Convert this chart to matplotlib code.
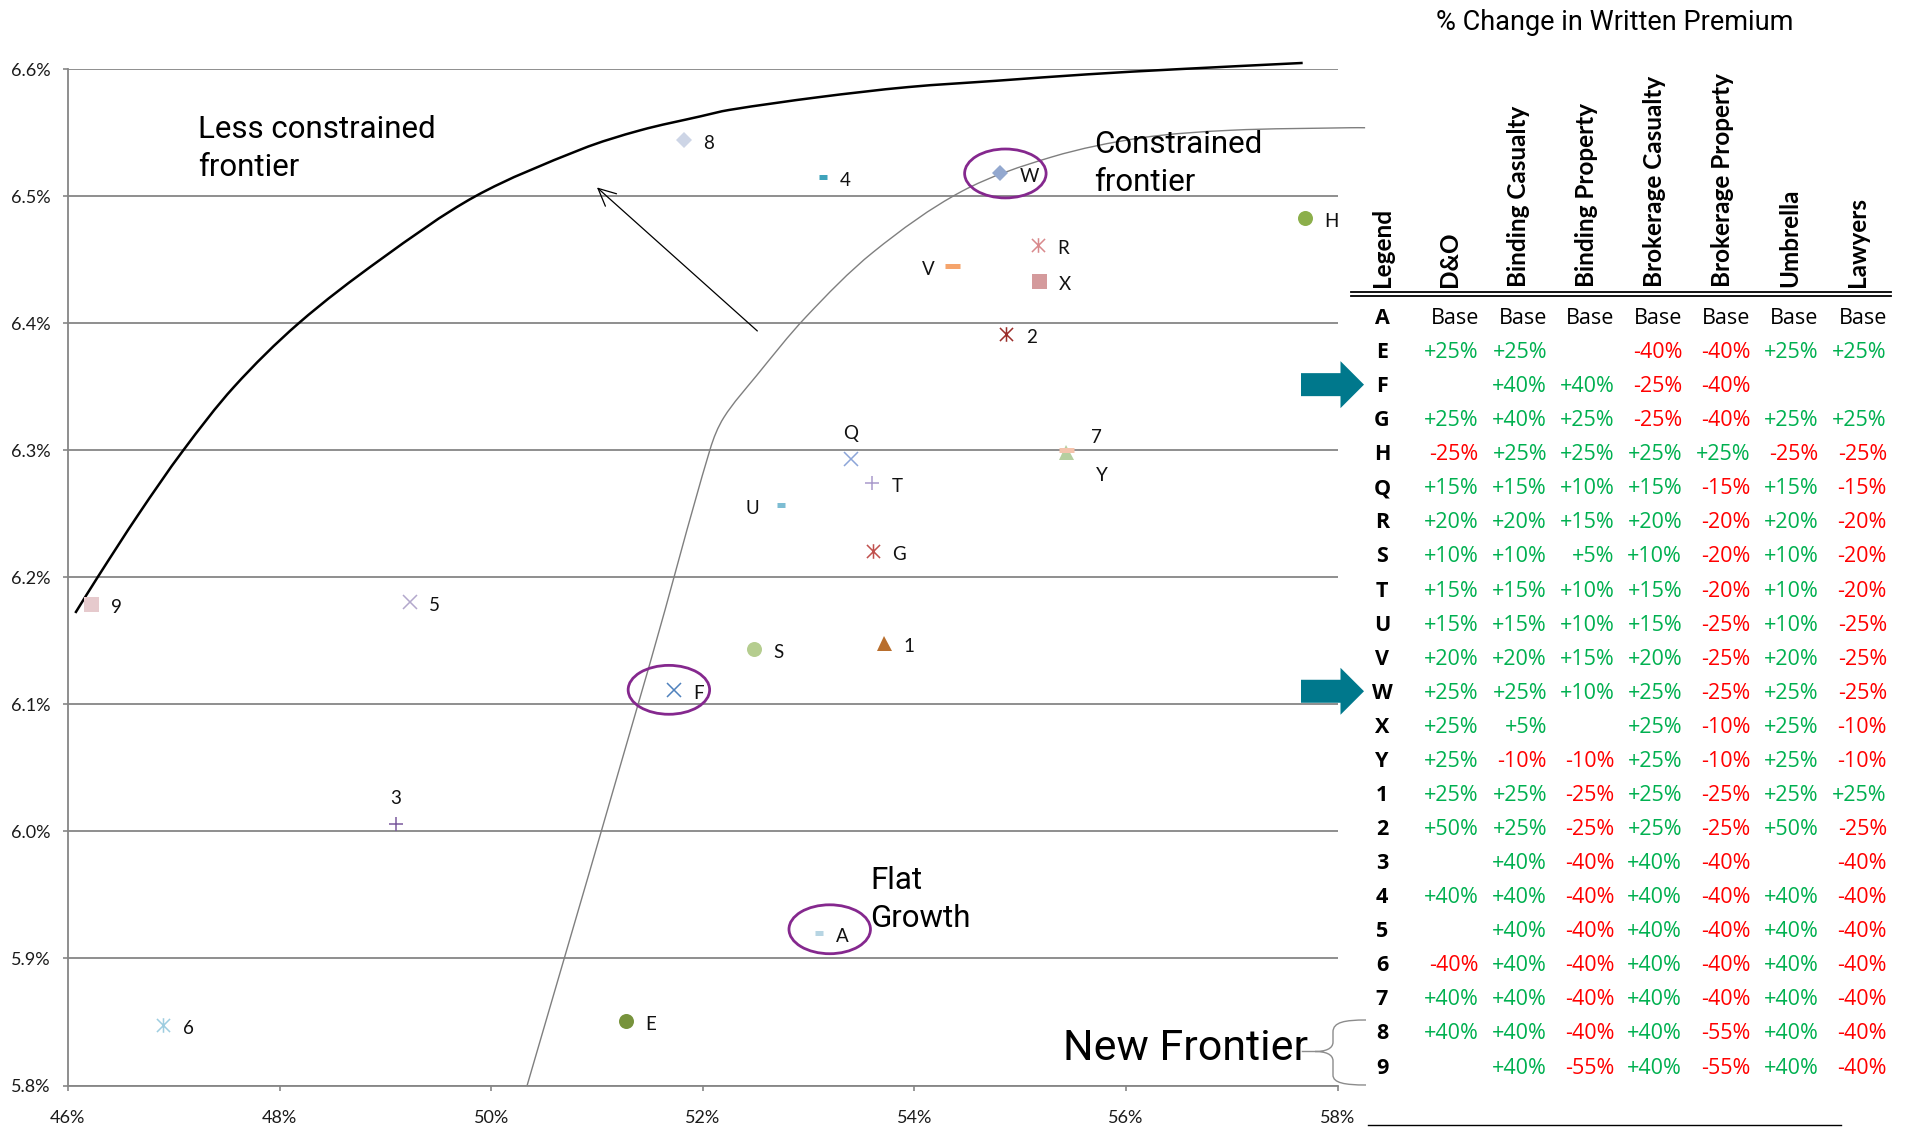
import matplotlib.pyplot as plt
from matplotlib.path import Path
from matplotlib.patches import Ellipse, Polygon, PathPatch
from matplotlib.ticker import FuncFormatter

plt.rcParams['font.family'] = ['Lato', 'DejaVu Sans']

W_PX, H_PX = 1905, 1128
GREY = '#868686'
THIN = ['Roboto', 'DejaVu Sans']
TABLE = ['Open Sans', 'DejaVu Sans']

# portfolios: loss ratio (%) against return (%)
labels = ['A', 'E', 'F', 'G', 'H', 'Q', 'R', 'S', 'T', 'U', 'V', 'W', 'X', 'Y',
          '1', '2', '3', '4', '5', '6', '7', '8', '9']
loss_ratio = [53.10, 51.27, 51.73, 53.61, 57.69, 53.40, 55.17, 52.48, 53.60, 52.74, 54.36, 54.81,
              55.18, 55.43, 53.71, 54.87, 49.10, 53.14, 49.23, 46.90, 55.43, 51.82, 46.22]
returns = [5.920, 5.851, 6.111, 6.221, 6.483, 6.293, 6.462, 6.144, 6.274, 6.257, 6.445, 6.518,
           6.433, 6.300, 6.148, 6.392, 6.006, 6.515, 6.181, 5.848, 6.299, 6.544, 6.179]

# less constrained frontier
loose_x = [46.07, 46.28, 46.67, 47.09, 47.57, 48.18, 48.95, 49.85, 50.85, 51.41, 51.98, 52.25,
           53.09, 53.94, 54.78, 55.63, 56.47, 57.67]
loose_y = [6.172, 6.200, 6.250, 6.300, 6.350, 6.400, 6.450, 6.500, 6.537, 6.552, 6.563, 6.568,
           6.578, 6.586, 6.591, 6.596, 6.600, 6.605]

# constrained frontier
tight_x = [50.34, 51.50, 52.07, 52.20, 52.51, 52.975, 53.61, 54.45, 55.30, 56.14, 56.99, 58.12, 58.26]
tight_y = [5.800, 6.132, 6.301, 6.326, 6.359, 6.405, 6.456, 6.504, 6.531, 6.546, 6.552, 6.554, 6.554]

# circled portfolios W, F, A
ring_x = [54.86, 51.68, 53.20]
ring_y = [6.518, 6.1115, 5.923]

# % change in written premium by line
col_names = ['Legend', 'D&O', 'Binding Casualty', 'Binding Property', 'Brokerage Casualty',
             'Brokerage Property', 'Umbrella', 'Lawyers']
d_and_o = ['Base', '+25%', '', '+25%', '-25%', '+15%', '+20%', '+10%', '+15%', '+15%', '+20%', '+25%',
           '+25%', '+25%', '+25%', '+50%', '', '+40%', '', '-40%', '+40%', '+40%', '']
binding_cas = ['Base', '+25%', '+40%', '+40%', '+25%', '+15%', '+20%', '+10%', '+15%', '+15%', '+20%',
               '+25%', '+5%', '-10%', '+25%', '+25%', '+40%', '+40%', '+40%', '+40%', '+40%', '+40%', '+40%']
binding_prop = ['Base', '', '+40%', '+25%', '+25%', '+10%', '+15%', '+5%', '+10%', '+10%', '+15%',
                '+10%', '', '-10%', '-25%', '-25%', '-40%', '-40%', '-40%', '-40%', '-40%', '-40%', '-55%']
brokerage_cas = ['Base', '-40%', '-25%', '-25%', '+25%', '+15%', '+20%', '+10%', '+15%', '+15%', '+20%',
                 '+25%', '+25%', '+25%', '+25%', '+25%', '+40%', '+40%', '+40%', '+40%', '+40%', '+40%', '+40%']
brokerage_prop = ['Base', '-40%', '-40%', '-40%', '+25%', '-15%', '-20%', '-20%', '-20%', '-25%', '-25%',
                  '-25%', '-10%', '-10%', '-25%', '-25%', '-40%', '-40%', '-40%', '-40%', '-40%', '-55%', '-55%']
umbrella = ['Base', '+25%', '', '+25%', '-25%', '+15%', '+20%', '+10%', '+10%', '+10%', '+20%', '+25%',
            '+25%', '+25%', '+25%', '+50%', '', '+40%', '+40%', '+40%', '+40%', '+40%', '+40%']
lawyers = ['Base', '+25%', '', '+25%', '-25%', '-15%', '-20%', '-20%', '-20%', '-25%', '-25%', '-25%',
           '-10%', '-10%', '+25%', '-25%', '-40%', '-40%', '-40%', '-40%', '-40%', '-40%', '-40%']
columns = [d_and_o, binding_cas, binding_prop, brokerage_cas, brokerage_prop, umbrella, lawyers]
flagged = ['F', 'W']

star = Path([(0, -1), (0, 1), (-0.9, -0.9), (0.9, 0.9), (-0.9, 0.9), (0.9, -0.9)],
            [Path.MOVETO, Path.LINETO] * 3)
style = {
    'A': ('_', '#B7D5E3', 5.8), 'E': ('o', '#77933C', 10.8), 'F': ('x', '#4F81BD', 10),
    'G': (star, '#C0504D', 10.5), 'H': ('o', '#8CAF4B', 10.8), 'Q': ('x', '#8CA5D8', 10),
    'R': (star, '#D9898C', 10.5), 'S': ('o', '#B5CD8F', 10.8), 'T': ('+', '#A99ACB', 10),
    'U': ('_', '#7DBDD3', 5.8), 'V': ('_', '#F5A46C', 10.8), 'W': ('D', '#93A8CF', 8.6),
    'X': ('s', '#D49A9C', 10.8), 'Y': ('_', '#F4C3AC', 10.8), '1': ('^', '#B86E2D', 10.8),
    '2': (star, '#9B2D2A', 10.5), '3': ('+', '#7A5A9E', 10), '4': ('_', '#3FA3BB', 5.8),
    '5': ('x', '#B3A8CC', 10), '6': (star, '#9ECDE0', 10.5), '7': ('^', '#B6CFA0', 10.8),
    '8': ('D', '#CDD5E6', 8.4), '9': ('s', '#E6CACD', 10.8),
}
# label offsets in points (dx, dy, ha); default sits to the right
place = {'V': (-13, -6.5, 'right'), 'U': (-16, -6.5, 'right'), 'Q': (0, 14.5, 'center'),
         '3': (0, 14.5, 'center'), '7': (22, 6.4, 'center'), 'Y': (26, -21.7, 'center'),
         '4': (11.5, -6.5, 'left'), 'A': (12, -6.5, 'left')}


def smooth(xs, ys, sx=105.75, sy=1273.0):
    # smoothed line through the points (chord-length Catmull-Rom as cubic Beziers)
    n = len(xs)
    t = [0.0]
    for i in range(1, n):
        t.append(t[-1] + ((sx * (xs[i] - xs[i - 1])) ** 2 + (sy * (ys[i] - ys[i - 1])) ** 2) ** 0.5)
    tan = []
    for i in range(n):
        a, b = max(i - 1, 0), min(i + 1, n - 1)
        tan.append(((xs[b] - xs[a]) / (t[b] - t[a]), (ys[b] - ys[a]) / (t[b] - t[a])))
    verts, codes = [(xs[0], ys[0])], [Path.MOVETO]
    for i in range(n - 1):
        h = (t[i + 1] - t[i]) / 3
        verts += [(xs[i] + tan[i][0] * h, ys[i] + tan[i][1] * h),
                  (xs[i + 1] - tan[i + 1][0] * h, ys[i + 1] - tan[i + 1][1] * h),
                  (xs[i + 1], ys[i + 1])]
        codes += [Path.CURVE4] * 3
    return Path(verts, codes)


fig = plt.figure(figsize=(W_PX / 100, H_PX / 100), dpi=100)
ax = fig.add_axes([67.9 / W_PX, 1 - 1085.5 / H_PX, (1337.6 - 67.9) / W_PX, (1085.5 - 69.3) / H_PX])

ax.add_patch(PathPatch(smooth(loose_x, loose_y), fill=False, ec='black', lw=1.8, zorder=2,
                       clip_on=False))
ax.add_patch(PathPatch(smooth(tight_x, tight_y), fill=False, ec='#7F7F7F', lw=1.0, zorder=2,
                       clip_on=False))

for lab, x, y in zip(labels, loss_ratio, returns):
    m, c, ms = style[lab]
    line_like = isinstance(m, Path) or m in ('x', '+', '_')
    ax.plot(x, y, ls='none', marker=m, ms=ms, mec=c, mfc='none' if line_like else c,
            mew=3.6 if (m == '_') else (1.1 if line_like else 0),
            zorder=4 if (m == '_') else 3)
    dx, dy, ha = place.get(lab, (14, -6.5, 'left'))
    ax.annotate(lab, (x, y), xytext=(dx, dy), textcoords='offset points',
                ha=ha, va='baseline', fontsize=13.5, color='#111111')

for cx, cy in zip(ring_x, ring_y):
    ax.add_patch(Ellipse((cx, cy), 0.77, 0.0385, fill=False, ec='#85288E', lw=2.0, zorder=5))

ax.annotate('', xy=(51.0, 6.507), xytext=(52.516, 6.394),
            arrowprops=dict(arrowstyle='->,head_length=1.25,head_width=0.6', lw=0.9,
                            color='black', shrinkA=0, shrinkB=0))

ax.set_xlim(46, 58)
ax.set_ylim(5.8, 6.6)
ax.set_xticks([46, 48, 50, 52, 54, 56, 58])
ax.set_yticks([5.8, 5.9, 6.0, 6.1, 6.2, 6.3, 6.4, 6.5, 6.6])
ax.xaxis.set_major_formatter(FuncFormatter(lambda v, p: f'{v:.0f}%'))
ax.yaxis.set_major_formatter(FuncFormatter(lambda v, p: f'{v:.1f}%'))
ax.yaxis.grid(True, color=GREY, lw=1.3)
ax.set_axisbelow(True)
for s in ('top', 'right'):
    ax.spines[s].set_visible(False)
for s in ('left', 'bottom'):
    ax.spines[s].set_color(GREY)
    ax.spines[s].set_linewidth(1.3)
ax.tick_params(axis='both', direction='out', length=3.6, width=1.2, color=GREY,
               labelsize=13, labelcolor='#1a1a1a')
ax.tick_params(axis='x', pad=14)
ax.tick_params(axis='y', pad=9)

# overlay in pixel units for the text blocks and the table
ov = fig.add_axes([0, 0, 1, 1])
ov.set_xlim(0, W_PX)
ov.set_ylim(H_PX, 0)
ov.axis('off')

note = dict(family=THIN, weight='normal', fontsize=22.5, va='baseline', ha='left', color='black')
ov.text(198, 137.6, 'Less constrained', **note)
ov.text(198, 175.9, 'frontier', **note)
ov.text(1094.5, 152.6, 'Constrained', **note)
ov.text(1094.5, 190.7, 'frontier', **note)
ov.text(870, 889, 'Flat', **note)
ov.text(870, 927, 'Growth', **note)
ov.text(1063, 1060, 'New Frontier', family=THIN, weight='normal', fontsize=31,
        va='baseline', ha='left')

# brace linking the label to rows 8 and 9
brace = Path([(1366, 1020), (1345, 1020), (1333, 1022), (1333, 1032), (1333, 1042),
              (1333, 1049), (1325, 1051.5), (1315, 1051.5),
              (1325, 1051.5), (1333, 1054), (1333, 1061), (1333, 1075),
              (1333, 1083), (1345, 1085), (1366, 1085),
              (1301.7, 1051.5), (1315, 1051.5)],
             [Path.MOVETO, Path.CURVE4, Path.CURVE4, Path.CURVE4, Path.LINETO,
              Path.CURVE4, Path.CURVE4, Path.CURVE4,
              Path.CURVE4, Path.CURVE4, Path.CURVE4, Path.LINETO,
              Path.CURVE4, Path.CURVE4, Path.CURVE4,
              Path.MOVETO, Path.LINETO])
ov.add_patch(PathPatch(brace, fill=False, ec='#8C8C8C', lw=1.0))

ov.text(1614.7, 30, '% Change in Written Premium', family=THIN, weight='normal',
        fontsize=19.5, ha='center', va='baseline')

col_x = [1382, 1449.8, 1518.1, 1586.5, 1654.4, 1722, 1789.6, 1857.9]
for name, cx in zip(col_names, col_x):
    ov.text(cx, 287, name, rotation=90, ha='center', va='bottom', fontsize=17.5, weight='bold')
ov.plot([1351, 1891], [291.7, 291.7], color='black', lw=1.3)
ov.plot([1351, 1891], [295.9, 295.9], color='black', lw=1.3)

right_x = [1478.8, 1547.1, 1614.7, 1682.2, 1750.6, 1818.5, 1886.9]
row_h = 34.07
for i, lab in enumerate(labels):
    yb = 324 + row_h * i
    ov.text(1382, yb, lab, ha='center', va='baseline', fontsize=15.5, weight='bold', family=TABLE)
    for col, rx in zip(columns, right_x):
        v = col[i]
        if not v:
            continue
        c = 'black' if v == 'Base' else ('#00B050' if v.startswith('+') else '#FF0000')
        ov.text(rx, yb, v, ha='right', va='baseline', fontsize=15.5, color=c, family=TABLE)
    if lab in flagged:
        yc = 316.5 + row_h * i
        ov.add_patch(Polygon([(1301, yc - 11.5), (1340.5, yc - 11.5), (1340.5, yc - 23.5),
                              (1364, yc), (1340.5, yc + 23.5), (1340.5, yc + 11.5),
                              (1301, yc + 11.5)], closed=True, fc='#00788C', ec='none'))

ov.plot([1367.6, 1840.5], [1125, 1125], color='black', lw=1.0)

fig.savefig('out.png', dpi=100)
